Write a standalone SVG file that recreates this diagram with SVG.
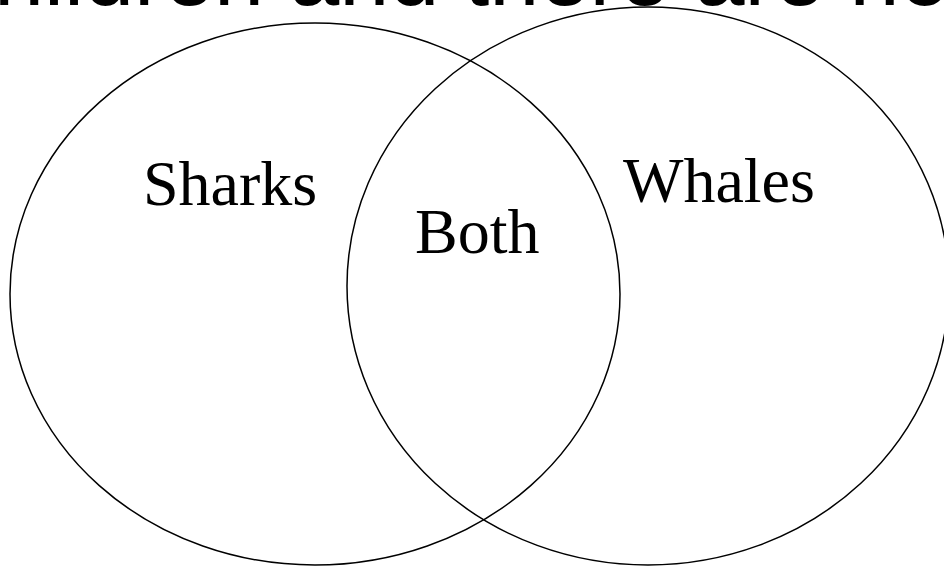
<svg xmlns="http://www.w3.org/2000/svg" width="944" height="567" viewBox="0 0 944 567">
<style>
.c{fill:none;stroke:#000;stroke-width:1.5}
.t{font-family:"Liberation Serif","Times New Roman",serif;font-size:64px;fill:#000}
.h{font-family:"Liberation Sans",Arial,sans-serif;font-size:90px;fill:#000}
</style>
<rect width="944" height="567" fill="#fff"/>
<text class="h" x="-6" y="5">hildren and there are no</text>
<g id="sharks"><ellipse class="c" cx="315" cy="294" rx="305" ry="271"/><text class="t" x="143" y="205">Sharks</text></g>
<g id="whales"><ellipse class="c" cx="648" cy="286" rx="301" ry="279"/><text class="t" x="623" y="202">Whales</text></g>
<g id="both"><text class="t" x="415" y="253">Both</text></g>
<g id="connectors"></g>
</svg>
